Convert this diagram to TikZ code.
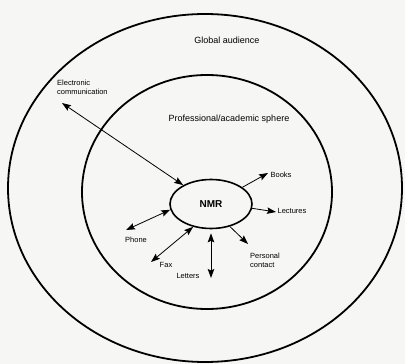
\documentclass[tikz,border=0pt]{standalone}
\usepackage{fontspec}
\setmainfont{Liberation Sans}
\usetikzlibrary{arrows.meta,shapes.geometric}
\definecolor{bgc}{RGB}{246,246,244}
\begin{document}
\begin{tikzpicture}[x=1pt,y=-1pt,
  ring/.style={line width=1.8pt},
  lbl/.style={font=\fontsize{7.5}{9}\selectfont, inner sep=0pt},
  big/.style={font=\fontsize{9}{11}\selectfont, inner sep=0pt},
  tip/.tip={Stealth[length=9pt,width=6.5pt,inset=1.5pt]},
  arr/.style={line width=0.8pt, -tip},
  darr/.style={line width=0.8pt, tip-tip}]
\fill[bgc] (0,0) rectangle (405,364);
\useasboundingbox (0,0) rectangle (405,364);
% rings
\draw[ring] (205,188) ellipse [x radius=197, y radius=174];
\draw[ring] (207,192) ellipse [x radius=125, y radius=117];
\node[draw, ellipse, line width=1.6pt, minimum width=82pt, minimum height=49pt,
      font=\fontsize{10}{12}\selectfont\bfseries] (nmr) at (211,204) {NMR};
% labels
\node[big] (global) at (227,40) {Global audience};
\node[big] (prof) at (229,119) {Professional/academic sphere};
\node[lbl, align=left, anchor=west] (elec) at (57,87) {Electronic\\communication};
\node[lbl] (books) at (281,175) {Books};
\node[lbl] (lect) at (292,211) {Lectures};
\node[lbl, align=left, anchor=west] (pers) at (250,260) {Personal\\contact};
\node[lbl] (letters) at (188,276) {Letters};
\node[lbl] (fax) at (166,265) {Fax};
\node[lbl] (phone) at (136,240) {Phone};
% free ends
\coordinate (ecE) at (62,103);
\coordinate (bkE) at (268,173);
\coordinate (lcE) at (276,212);
\coordinate (pcE) at (248,244);
\coordinate (ltE) at (211,278);
\coordinate (fxE) at (151,262);
\coordinate (phE) at (126,230);
% connectors
\draw[darr] (ecE) -- (nmr);
\draw[arr] (nmr.28) -- (bkE);
\draw[arr] (nmr.-6) -- (lcE);
\draw[arr] (nmr.-50) -- (pcE);
\draw[darr, line width=1pt, shorten <=4pt] (nmr.south) -- (ltE);
\draw[darr] (nmr.232) -- (fxE);
\draw[darr] (nmr.188) -- (phE);
\end{tikzpicture}
\end{document}
